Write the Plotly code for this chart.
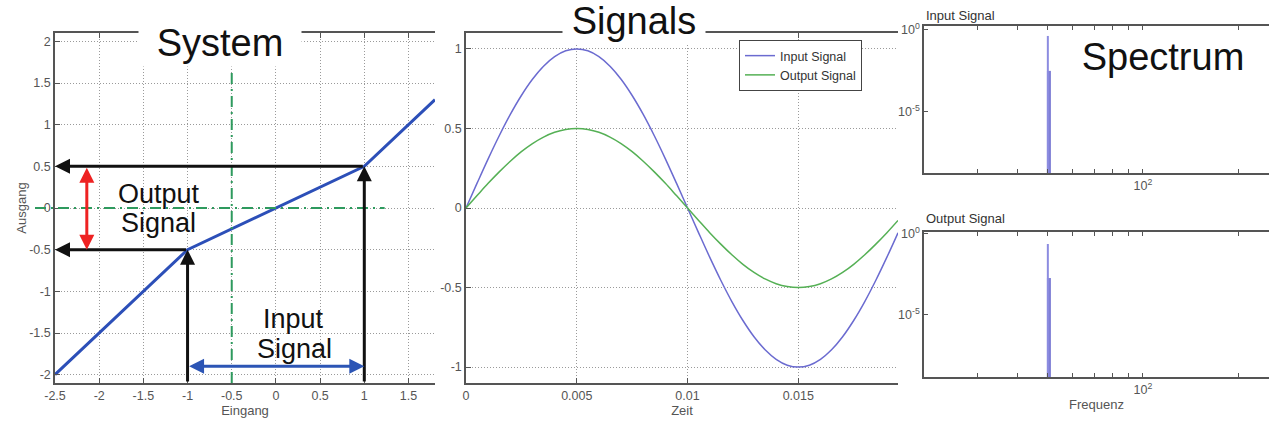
import plotly.graph_objects as go

# ---------------- data ----------------
# System characteristic (Eingang -> Ausgang)
sys_in = [-2.5, -1.0, 1.0, 1.8]
sys_out = [-2.0, -0.5, 0.5, 1.3]
input_limits = [-1.0, 1.0]
output_limits = [-0.5, 0.5]
operating_point = [-0.5, 0.0]
marker_pos = [-2.14, -1.9]   # red arrow x, blue arrow y

# Signals over time
zeit = [0, 0.0005, 0.001, 0.0015, 0.002, 0.0025, 0.003, 0.0035, 0.004, 0.0045,
        0.005, 0.0055, 0.006, 0.0065, 0.007, 0.0075, 0.008, 0.0085, 0.009, 0.0095,
        0.01, 0.0105, 0.011, 0.0115, 0.012, 0.0125, 0.013, 0.0135, 0.014, 0.0145,
        0.015, 0.0155, 0.016, 0.0165, 0.017, 0.0175, 0.018, 0.0185, 0.019, 0.0195]
input_signal = [0, 0.156, 0.309, 0.454, 0.588, 0.707, 0.809, 0.891, 0.951, 0.988,
                1.0, 0.988, 0.951, 0.891, 0.809, 0.707, 0.588, 0.454, 0.309, 0.156,
                0, -0.156, -0.309, -0.454, -0.588, -0.707, -0.809, -0.891, -0.951, -0.988,
                -1.0, -0.988, -0.951, -0.891, -0.809, -0.707, -0.588, -0.454, -0.309, -0.156]
output_signal = [0, 0.078, 0.155, 0.227, 0.294, 0.354, 0.405, 0.446, 0.476, 0.494,
                 0.5, 0.494, 0.476, 0.446, 0.405, 0.354, 0.294, 0.227, 0.155, 0.078,
                 0, -0.078, -0.155, -0.227, -0.294, -0.354, -0.405, -0.446, -0.476, -0.494,
                 -0.5, -0.494, -0.476, -0.446, -0.405, -0.354, -0.294, -0.227, -0.155, -0.078]

# Spectra (main line and neighbouring bin)
spec_freq = [50.0, 50.4]
spec_input = [0.43, 0.0032]
spec_output = [0.24, 0.0019]
spec_floor = 1e-10

# tick labels
sys_xticks = [-2.5, -2, -1.5, -1, -0.5, 0, 0.5, 1, 1.5]
sys_yticks = [-2, -1.5, -1, -0.5, 0, 0.5, 1, 1.5, 2]
sig_xticks = [0, 0.005, 0.01, 0.015]
sig_yticks = [-1, -0.5, 0, 0.5, 1]
spec_xticks = [100]
spec_xlabels = ["10<sup>2</sup>"]
spec_xminor = [30, 40, 50, 60, 70, 80, 90, 200]
spec_yticks = [1, 1e-5]
spec_ylabels = ["10<sup>0</sup>", "10<sup>-5</sup>"]

# ---------------- layout helpers ----------------
W, H = 1269, 423
def fx(px):
    return px / W
def fy(py):
    return 1 - py / H

FONT = "Liberation Sans, Arial, sans-serif"
tickfont = dict(family=FONT, size=12.5, color="#555555")
titlefont = dict(family=FONT, size=13, color="#555555")
AXC = "#555555"
GRIDC = "#9a9a9a"

fig = go.Figure()

# System panel
fig.add_trace(go.Scatter(x=sys_in, y=sys_out, mode="lines",
                         line=dict(color="#2c4fb8", width=3),
                         showlegend=False, xaxis="x", yaxis="y"))

# Signals panel
fig.add_trace(go.Scatter(x=zeit, y=input_signal, mode="lines", name="Input Signal",
                         line=dict(color="#6b6bd0", width=1.5, shape="spline"),
                         xaxis="x2", yaxis="y2"))
fig.add_trace(go.Scatter(x=zeit, y=output_signal, mode="lines", name="Output Signal",
                         line=dict(color="#55b055", width=1.5, shape="spline"),
                         xaxis="x2", yaxis="y2"))

# Spectrum panels
for amps, xa, ya in [(spec_input, "x3", "y3"), (spec_output, "x4", "y4")]:
    fig.add_trace(go.Scatter(x=[spec_freq[1], spec_freq[1]], y=[spec_floor, amps[1]],
                             mode="lines", line=dict(color="#7f7fd6", width=4),
                             showlegend=False, xaxis=xa, yaxis=ya))
    fig.add_trace(go.Scatter(x=[spec_freq[0], spec_freq[0]], y=[spec_floor, amps[0]],
                             mode="lines", line=dict(color="#8c8ce0", width=2),
                             showlegend=False, xaxis=xa, yaxis=ya))

def lin_axis(**kw):
    d = dict(showgrid=True, gridcolor=GRIDC, griddash="1px,2px", gridwidth=1,
             zeroline=False, showline=True, linecolor=AXC, linewidth=1.5,
             ticks="inside", ticklen=5, tickcolor=AXC, tickfont=tickfont,
             automargin=False)
    d.update(kw)
    return d

minor = dict(tickmode="array", tickvals=spec_xminor, ticks="inside", ticklen=4,
             tickcolor=AXC, showgrid=False)

sys_xr = [-2.5, 1.8]
sys_yr = [-2.1, 2.1]
sys_xd = [fx(55), fx(435)]
sys_yd = [fy(383), fy(33)]

fig.update_layout(
    template="none",
    width=W, height=H,
    margin=dict(l=0, r=0, t=0, b=0, pad=0),
    paper_bgcolor="white", plot_bgcolor="white",
    font=dict(family=FONT),
    xaxis=lin_axis(domain=sys_xd, range=sys_xr, anchor="y", mirror="ticks",
                   tickvals=sys_xticks, ticktext=[str(v) for v in sys_xticks],
                   title=dict(text="Eingang", font=titlefont, standoff=4)),
    yaxis=lin_axis(domain=sys_yd, range=sys_yr, anchor="x",
                   tickvals=sys_yticks, ticktext=[str(v) for v in sys_yticks],
                   title=dict(text="Ausgang", font=titlefont, standoff=0)),
    xaxis2=lin_axis(domain=[fx(466), fx(898)], range=[0, 0.0195], anchor="y2", mirror="ticks",
                    tickvals=sig_xticks, ticktext=[str(v) for v in sig_xticks],
                    title=dict(text="Zeit", font=titlefont, standoff=4)),
    yaxis2=lin_axis(domain=[fy(383), fy(33)], range=[-1.1, 1.1], anchor="x2",
                    tickvals=sig_yticks, ticktext=[str(v) for v in sig_yticks]),
    xaxis3=lin_axis(type="log", domain=[fx(924), 1.0], range=[1.307, 2.399], anchor="y3",
                    mirror="allticks", showgrid=False, ticklen=4,
                    tickvals=spec_xticks, ticktext=spec_xlabels, minor=minor),
    yaxis3=lin_axis(type="log", domain=[fy(173), fy(26)], range=[-8.72, 0.24], anchor="x3",
                    showgrid=False, ticklen=4, tickvals=spec_yticks, ticktext=spec_ylabels),
    xaxis4=lin_axis(type="log", domain=[fx(924), 1.0], range=[1.307, 2.399], anchor="y4",
                    mirror="allticks", showgrid=False, ticklen=4,
                    tickvals=spec_xticks, ticktext=spec_xlabels, minor=minor,
                    title=dict(text="Frequenz", font=titlefont, standoff=4)),
    yaxis4=lin_axis(type="log", domain=[fy(377), fy(232)], range=[-8.83, 0.12], anchor="x4",
                    showgrid=False, ticklen=4, tickvals=spec_yticks, ticktext=spec_ylabels),
    legend=dict(x=fx(739), y=fy(40), xanchor="left", yanchor="top",
                bgcolor="white", bordercolor="#444444", borderwidth=1,
                font=dict(family=FONT, size=12.5, color="#333333"),
                tracegroupgap=0),
)

# data -> paper conversion for panel 1 (for elements that stick out of the axes)
def sx(v):
    return sys_xd[0] + (v - sys_xr[0]) / (sys_xr[1] - sys_xr[0]) * (sys_xd[1] - sys_xd[0])
def sy(v):
    return sys_yd[0] + (v - sys_yr[0]) / (sys_yr[1] - sys_yr[0]) * (sys_yd[1] - sys_yd[0])

green = "#2e9a5e"
dd = "11px,5px,2px,5px"
# operating point dash-dot lines
fig.add_shape(type="line", xref="x", yref="y", x0=operating_point[0], x1=operating_point[0],
              y0=sys_yr[0], y1=1.63, line=dict(color=green, width=2, dash=dd))
fig.add_shape(type="line", xref="paper", yref="paper", x0=fx(35), x1=sx(1.23),
              y0=sy(operating_point[1]), y1=sy(operating_point[1]),
              line=dict(color=green, width=2, dash=dd))

def arrow(x, y, ax, ay, color, width=3, both=False, size=1.0):
    fig.add_annotation(x=x, y=y, ax=ax, ay=ay, xref="x", yref="y", axref="x", ayref="y",
                       text="", showarrow=True, arrowhead=2, arrowsize=size,
                       arrowwidth=width, arrowcolor=color, standoff=0, startstandoff=0,
                       arrowside="end+start" if both else "end", startarrowhead=2,
                       startarrowsize=size)

# input limits -> vertical arrows up to curve, then horizontal to output axis
for xi, yo in zip(input_limits, output_limits):
    arrow(xi, yo, xi, sys_yr[0], "#111111")
    arrow(sys_xr[0], yo, xi, yo, "#111111")
# output range (red) and input range (blue)
arrow(marker_pos[0], output_limits[0], marker_pos[0], output_limits[1], "#ee2222", both=True)
arrow(input_limits[1], marker_pos[1], input_limits[0], marker_pos[1], "#2c55b5", both=True)

big = dict(family=FONT, size=38, color="#111111")
mid = dict(family=FONT, size=27, color="#111111")
for text, cx, cy, w, h in [("System", 220, 43, 160, 44),
                           ("Signals", 634, 21, 140, 42),
                           ("Spectrum", 1163, 57, 186, 44)]:
    fig.add_annotation(text=text, x=fx(cx), y=fy(cy), xref="paper", yref="paper",
                       showarrow=False, font=big, bgcolor="white", width=w, height=h,
                       xanchor="center", yanchor="middle")

for text, cx, cy in [("Output", 159, 194), ("Signal", 159, 223),
                     ("Input", 293, 319), ("Signal", 294, 349)]:
    fig.add_annotation(text=text, x=fx(cx), y=fy(cy), xref="paper", yref="paper",
                       showarrow=False, font=mid, xanchor="center", yanchor="middle")

for text, cy in [("Input Signal", 15), ("Output Signal", 218)]:
    fig.add_annotation(text=text, x=fx(924), y=fy(cy), xref="paper", yref="paper",
                       showarrow=False, font=dict(family=FONT, size=13, color="#333333"),
                       xanchor="left", yanchor="middle")

fig.write_html("out.html", config={"displayModeBar": False},
               post_script="document.body.style.margin='0';"
                           "document.body.style.overflow='hidden';")
